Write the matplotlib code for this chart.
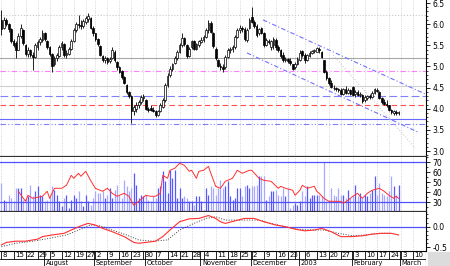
#Grafico de candles com volume, RSI e MACD
import matplotlib.pyplot as plt
from matplotlib.ticker import MultipleLocator, FormatStrFormatter
from matplotlib.patches import Rectangle
import pandas as pd

plt.rcParams['font.family'] = 'DejaVu Sans'
plt.rcParams['axes.unicode_minus'] = False

#Dias de pregao de 8/jul/2002 ate 14/mar/2003, sem os feriados
feriados = pd.to_datetime(['2002-08-26', '2002-12-25', '2002-12-26', '2003-01-01'])
datas = pd.bdate_range('2002-07-08', '2003-03-14')
datas = datas[~datas.isin(feriados)]
nomes_meses = {1: '2003', 2: 'February', 3: 'March', 8: 'August', 9: 'September',
               10: 'October', 11: 'November', 12: 'December'}
semanas_sem_rotulo = ['2002-12-30']

#Precos diarios (abertura, maxima, minima, fechamento)
abertura = [6.10, 5.90, 6.10, 6.00, 5.88, 5.60, 5.55, 5.40, 5.72, 5.85,
            5.50, 5.30, 5.38, 5.28, 5.22, 5.45, 5.58, 5.62, 5.78, 5.60,
            5.45, 5.30, 5.05, 5.20, 5.25, 5.45, 5.52, 5.28, 5.30, 5.42,
            5.60, 5.85, 6.00, 5.98, 5.95, 6.05, 6.12, 6.15, 5.92, 5.78,
            5.65, 5.48, 5.25, 5.15, 5.20, 5.12, 5.20, 5.35, 5.10, 4.98,
            4.90, 4.75, 4.55, 4.40, 4.30, 3.95, 4.00, 4.10, 4.15, 4.25,
            4.20, 4.00, 4.02, 3.98, 3.95, 3.85, 3.95, 4.05, 4.20, 4.55,
            4.80, 4.95, 5.08, 5.20, 5.35, 5.50, 5.68, 5.50, 5.25, 5.45,
            5.60, 5.42, 5.50, 5.58, 5.62, 5.70, 5.85, 6.02, 5.80, 5.42,
            5.15, 5.02, 4.98, 4.98, 5.22, 5.38, 5.42, 5.45, 5.70, 5.85,
            5.90, 5.88, 5.62, 5.90, 6.17, 6.05, 5.95, 5.78, 5.92, 5.80,
            5.50, 5.60, 5.45, 5.50, 5.62, 5.45, 5.40, 5.28, 5.15, 5.18,
            5.12, 5.05, 4.98, 5.05, 5.15, 5.36, 5.26, 5.15, 5.25, 5.32,
            5.36, 5.35, 5.42, 5.34, 5.15, 4.88, 4.72, 4.62, 4.50, 4.48,
            4.46, 4.45, 4.36, 4.46, 4.38, 4.44, 4.52, 4.35, 4.40, 4.32,
            4.32, 4.20, 4.26, 4.30, 4.28, 4.38, 4.45, 4.40, 4.26, 4.16,
            4.12, 4.08, 3.98, 3.90, 3.92, 3.90]
maxima = [6.34, 6.18, 6.15, 6.02, 5.90, 5.65, 5.60, 5.80, 6.00, 5.88,
          5.52, 5.45, 5.42, 5.35, 5.55, 5.62, 5.70, 5.86, 5.82, 5.62,
          5.48, 5.32, 5.25, 5.32, 5.50, 5.60, 5.55, 5.38, 5.45, 5.65,
          5.90, 6.05, 6.22, 6.10, 6.12, 6.20, 6.27, 6.18, 5.95, 5.80,
          5.68, 5.50, 5.28, 5.25, 5.22, 5.22, 5.45, 5.38, 5.12, 5.00,
          4.92, 4.78, 4.58, 4.42, 4.32, 4.10, 4.15, 4.20, 4.32, 4.35,
          4.22, 4.05, 4.09, 4.04, 3.98, 3.98, 4.14, 4.25, 4.60, 4.84,
          5.00, 5.08, 5.25, 5.39, 5.55, 5.79, 5.70, 5.52, 5.46, 5.62,
          5.62, 5.55, 5.62, 5.70, 5.75, 5.90, 6.10, 6.08, 5.82, 5.45,
          5.18, 5.08, 5.06, 5.27, 5.44, 5.46, 5.50, 5.75, 5.90, 5.98,
          5.95, 5.93, 5.90, 6.15, 6.40, 6.10, 6.00, 5.90, 5.93, 5.82,
          5.67, 5.65, 5.62, 5.70, 5.68, 5.50, 5.42, 5.34, 5.22, 5.20,
          5.20, 5.06, 5.10, 5.22, 5.39, 5.39, 5.32, 5.30, 5.36, 5.39,
          5.42, 5.46, 5.46, 5.36, 5.16, 4.92, 4.75, 4.68, 4.56, 4.52,
          4.50, 4.49, 4.50, 4.54, 4.50, 4.47, 4.54, 4.45, 4.44, 4.40,
          4.34, 4.32, 4.33, 4.36, 4.42, 4.49, 4.49, 4.42, 4.28, 4.22,
          4.20, 4.10, 4.00, 3.97, 3.96, 3.95]
minima = [5.75, 5.88, 5.95, 5.82, 5.55, 5.46, 5.20, 5.38, 5.68, 5.50,
          5.25, 5.22, 5.22, 4.92, 5.20, 5.40, 5.50, 5.58, 5.60, 5.42,
          5.25, 4.87, 5.00, 5.12, 5.22, 5.40, 5.22, 5.20, 5.28, 5.40,
          5.58, 5.82, 5.90, 5.88, 5.90, 6.00, 6.05, 5.88, 5.72, 5.60,
          5.48, 5.25, 5.10, 5.08, 5.05, 5.08, 5.18, 5.10, 4.92, 4.85,
          4.70, 4.58, 4.35, 4.25, 3.66, 3.85, 3.92, 4.02, 4.12, 4.18,
          3.98, 3.92, 3.95, 3.92, 3.80, 3.82, 3.92, 4.02, 4.15, 4.52,
          4.75, 4.90, 5.05, 5.15, 5.32, 5.46, 5.48, 5.20, 5.22, 5.42,
          5.38, 5.40, 5.45, 5.55, 5.58, 5.68, 5.80, 5.78, 5.44, 5.15,
          4.99, 4.92, 4.87, 4.95, 5.20, 5.32, 5.34, 5.42, 5.67, 5.80,
          5.82, 5.60, 5.58, 5.88, 6.02, 5.90, 5.70, 5.75, 5.77, 5.46,
          5.48, 5.52, 5.39, 5.42, 5.40, 5.35, 5.20, 5.10, 5.10, 5.08,
          5.03, 4.92, 4.95, 5.03, 5.12, 5.22, 5.08, 5.12, 5.22, 5.30,
          5.32, 5.33, 5.32, 5.20, 4.84, 4.68, 4.55, 4.48, 4.44, 4.43,
          4.40, 4.32, 4.32, 4.34, 4.34, 4.32, 4.30, 4.28, 4.30, 4.28,
          4.14, 4.16, 4.20, 4.24, 4.26, 4.36, 4.40, 4.22, 4.12, 4.09,
          4.04, 3.95, 3.88, 3.85, 3.85, 3.85]
fechamento = [5.88, 6.10, 6.00, 5.88, 5.60, 5.50, 5.38, 5.72, 5.90, 5.55,
              5.30, 5.38, 5.28, 5.22, 5.50, 5.58, 5.65, 5.78, 5.65, 5.45,
              5.30, 5.02, 5.20, 5.28, 5.45, 5.55, 5.28, 5.32, 5.42, 5.60,
              5.85, 6.00, 5.98, 5.95, 6.08, 6.15, 6.20, 5.92, 5.78, 5.65,
              5.52, 5.28, 5.15, 5.20, 5.10, 5.18, 5.40, 5.15, 4.98, 4.88,
              4.75, 4.62, 4.40, 4.30, 3.95, 4.05, 4.10, 4.15, 4.28, 4.30,
              4.00, 3.98, 3.98, 3.95, 3.85, 3.95, 4.08, 4.20, 4.55, 4.78,
              4.95, 5.05, 5.20, 5.35, 5.50, 5.68, 5.52, 5.25, 5.42, 5.60,
              5.42, 5.52, 5.60, 5.62, 5.70, 5.85, 6.02, 5.82, 5.48, 5.20,
              5.02, 4.98, 4.95, 5.22, 5.40, 5.42, 5.45, 5.70, 5.85, 5.90,
              5.88, 5.65, 5.85, 6.10, 6.05, 5.95, 5.75, 5.88, 5.80, 5.50,
              5.62, 5.58, 5.60, 5.65, 5.45, 5.40, 5.25, 5.15, 5.18, 5.12,
              5.08, 4.95, 5.05, 5.18, 5.32, 5.26, 5.15, 5.27, 5.32, 5.36,
              5.38, 5.44, 5.38, 5.22, 4.88, 4.72, 4.60, 4.52, 4.48, 4.46,
              4.44, 4.36, 4.46, 4.38, 4.45, 4.36, 4.33, 4.40, 4.32, 4.36,
              4.18, 4.28, 4.30, 4.28, 4.38, 4.46, 4.42, 4.26, 4.15, 4.12,
              4.10, 3.98, 3.92, 3.95, 3.90, 3.92]

#Volume (ja na escala do painel do meio)
volume = [49, 32, 31, 37, 34, 31, 44, 44, 44, 32, 34, 36, 47, 36, 41, 46, 37, 36, 31, 32,
          36, 46, 42, 37, 31, 26, 34, 37, 24, 32, 37, 34, 41, 31, 26, 37, 31, 27, 34, 41,
          39, 39, 41, 34, 37, 44, 34, 42, 47, 37, 34, 52, 46, 41, 44, 59, 47, 34, 37, 36,
          37, 32, 31, 36, 34, 44, 46, 61, 51, 39, 62, 54, 62, 34, 44, 34, 36, 34, 31, 31,
          27, 36, 36, 31, 22, 44, 37, 46, 44, 37, 44, 52, 44, 46, 51, 36, 32, 34, 44, 44,
          36, 46, 47, 44, 46, 46, 47, 56, 56, 56, 32, 36, 41, 41, 42, 37, 36, 44, 36, 44,
          24, 27, 29, 27, 31, 41, 36, 46, 34, 37, 37, 37, 37, 36, 70, 31, 32, 44, 37, 36,
          44, 37, 37, 34, 42, 34, 36, 47, 36, 39, 34, 37, 36, 39, 42, 56, 37, 49, 39, 37,
          36, 41, 56, 46, 37, 47]

#Linha vermelha do painel do meio (RSI)
rsi_dia = [7, 10, 11, 13, 17, 19, 20, 22, 25, 27, 29, 30, 32, 33, 35, 37, 39, 42, 44, 46,
           48, 51, 53, 54, 55, 57, 60, 62, 64, 66, 67, 69, 70, 72, 74, 76, 78, 79, 81, 82,
           84, 86, 87, 89, 91, 93, 96, 98, 100, 103, 104, 107, 109, 112, 115, 116, 118, 121, 122, 124,
           125, 127, 130, 131, 132, 134, 136, 139, 141, 142, 144, 146, 148, 149, 150, 152, 154, 157, 159, 161,
           163, 164, 165]
rsi_valor = [41, 31, 37, 34, 36, 41, 34, 44, 44, 47, 57, 54, 59, 56, 61, 52, 44, 41, 44, 39,
             36, 39, 36, 31, 27, 31, 37, 36, 36, 39, 57, 54, 62, 64, 69, 67, 61, 62, 54, 61,
             62, 66, 59, 46, 44, 51, 54, 62, 59, 62, 62, 54, 52, 51, 44, 46, 44, 42, 37, 42,
             47, 44, 46, 41, 39, 34, 31, 31, 31, 29, 32, 36, 39, 36, 34, 39, 42, 44, 41, 37,
             34, 36, 34]

#MACD e linha de sinal
macd_dia = [0, 2, 6, 10, 15, 17, 21, 26, 29, 33, 36, 39, 42, 46, 51, 55, 57, 60, 64, 67,
            70, 74, 78, 82, 86, 89, 91, 93, 97, 101, 105, 109, 114, 118, 122, 126, 130, 133, 137, 141,
            145, 150, 154, 158, 162, 165]
macd_valor = [-0.44, -0.38, -0.35, -0.35, -0.30, -0.24, -0.20, -0.16, -0.08, 0.02,
              0.08, 0.04, -0.04, -0.12, -0.24, -0.38, -0.40, -0.38, -0.35, -0.24,
              -0.08, 0.12, 0.19, 0.20, 0.27, 0.20, 0.12, 0.08, 0.14, 0.20,
              0.20, 0.12, 0.04, 0.00, -0.06, -0.10, -0.08, -0.04, -0.12, -0.24,
              -0.24, -0.22, -0.18, -0.16, -0.16, -0.20]
sinal_dia = [0, 6, 13, 20, 27, 33, 37, 41, 46, 52, 57, 63, 69, 74, 80, 85, 89, 93, 101, 107,
             112, 118, 123, 129, 134, 140, 146, 151, 157, 162]
sinal_valor = [-0.48, -0.40, -0.35, -0.28, -0.20, -0.06, 0.04, 0.02, -0.08, -0.20,
               -0.32, -0.35, -0.32, -0.08, 0.08, 0.20, 0.24, 0.16, 0.16, 0.16,
               0.08, 0.00, -0.06, -0.08, -0.08, -0.16, -0.22, -0.20, -0.16, -0.16]

#Linhas horizontais de suporte/resistencia e canal de baixa
niveis = [6.22, 5.20, 4.89, 4.54, 4.30, 4.09, 3.76, 3.64]
canal_sup = [(108.7, 6.10), (176.8, 4.33)]
canal_inf = [(102.0, 5.32), (173.0, 3.45)]
canal_meio = [(137.8, 5.27), (171.9, 3.07)]

W, H = 450, 266
fig = plt.figure(figsize=(W / 100, H / 100), dpi=100)
larg = 426 / W
ax1 = fig.add_axes([0, (H - 157) / H, larg, 157 / H])
ax2 = fig.add_axes([0, (H - 212) / H, larg, 55 / H])
ax3 = fig.add_axes([0, (H - 251) / H, larg, 39 / H])
axd = fig.add_axes([0, 0, larg, 15 / H])

xlim = (-0.62, 176.4)
n = len(fechamento)
dias = list(range(n))

#inicio de cada semana e de cada mes
semanas = [i for i in range(len(datas)) if i == 0 or datas[i].weekday() < datas[i - 1].weekday()]
meses = [i for i in range(1, len(datas)) if datas[i].month != datas[i - 1].month]

for ax in (ax1, ax2, ax3):
    ax.set_xlim(*xlim)
    ax.set_xticks([])
    ax.vlines(semanas, -100, 100, colors='#c8c8c8', linestyles=':', linewidth=0.6, zorder=0)
    ax.yaxis.tick_right()
    ax.tick_params(axis='y', which='major', length=3, width=0.6, labelsize=5.5, pad=1.5)
    ax.tick_params(axis='y', which='minor', length=1.5, width=0.5)
    ax.spines['left'].set_visible(False)
    ax.spines['top'].set_visible(False)
    ax.spines['right'].set_linewidth(0.8)

#Painel principal: candles
ax1.set_ylim(2.859, 6.571)
estilos = [(':', '#c8c8c8'), ('-', '#a8a8a8'), ((0, (5, 2, 1, 2)), '#ff80ff'), ('-', '#d0d0d0'),
           ((0, (7, 3)), '#8080ff'), ((0, (5, 3)), '#ff5050'), ('-', '#6868ff'),
           ((0, (5, 2, 1, 2, 1, 2)), '#8080ff')]
for nivel, (ls, cor) in zip(niveis, estilos):
    ax1.axhline(nivel, color=cor, linestyle=ls, linewidth=0.8, zorder=1)
for linha in (canal_sup, canal_inf):
    ax1.plot([p[0] for p in linha], [p[1] for p in linha], color='#7070ff',
             linestyle=(0, (4, 2, 1, 2)), linewidth=0.8, zorder=1)
ax1.plot([p[0] for p in canal_meio], [p[1] for p in canal_meio], color='#d0d0d0',
         linestyle=':', linewidth=0.8, zorder=1)

ax1.vlines(dias, minima, maxima, colors='black', linewidth=0.6, zorder=2)
corpo_base = [min(o, c) for o, c in zip(abertura, fechamento)]
corpo_alt = [max(abs(c - o), 0.01) for o, c in zip(abertura, fechamento)]
cores = ['white' if c >= o else 'black' for o, c in zip(abertura, fechamento)]
ax1.bar(dias, corpo_alt, bottom=corpo_base, width=0.7, color=cores,
        edgecolor='black', linewidth=0.5, zorder=3)
ax1.yaxis.set_major_locator(MultipleLocator(0.5))
ax1.yaxis.set_minor_locator(MultipleLocator(0.1))
ax1.yaxis.set_major_formatter(FormatStrFormatter('%.1f'))
ax1.spines['bottom'].set_linewidth(1.6)
ax1.spines['bottom'].set_color('#303030')

#Painel do meio: volume e RSI
ax2.set_ylim(20.3, 75.3)
cores_vol = ['#5858ff' if c >= o else '#a8a8ff' for o, c in zip(abertura, fechamento)]
ax2.vlines(dias, 20.3, volume, colors=cores_vol, linewidth=0.9, zorder=2)
ax2.axhline(70, color='#5050ff', linewidth=0.9, zorder=3)
ax2.axhline(30, color='#5050ff', linewidth=0.9, zorder=3)
ax2.plot(rsi_dia, rsi_valor, color='#ff3030', linewidth=0.7, zorder=4)
ax2.yaxis.set_major_locator(MultipleLocator(10))
ax2.yaxis.set_minor_locator(MultipleLocator(5))
ax2.set_yticks([30, 40, 50, 60, 70])
ax2.spines['bottom'].set_linewidth(1.6)
ax2.spines['bottom'].set_color('#303030')

#Painel de baixo: MACD
ax3.set_ylim(-0.587, 0.355)
ax3.axhline(0, color='#5050ff', linewidth=0.9, zorder=1)
ax3.plot(sinal_dia, sinal_valor, color='#404040', linestyle=':', linewidth=0.7, zorder=2)
ax3.plot(macd_dia, macd_valor, color='#ff3030', linewidth=0.8, zorder=3)
ax3.yaxis.set_major_locator(MultipleLocator(0.5))
ax3.yaxis.set_minor_locator(MultipleLocator(0.1))
ax3.yaxis.set_major_formatter(FormatStrFormatter('%.1f'))
ax3.spines['bottom'].set_linewidth(0.8)

#Eixo de datas: linha de cima com os dias, linha de baixo com os meses
axd.set_xlim(*xlim)
axd.set_ylim(0, 1)
axd.axis('off')
corte = 0.45
axd.axhline(corte, color='black', linewidth=0.6)
axd.axvline(xlim[1], color='black', linewidth=0.8)
for i in semanas:
    axd.vlines(i, corte, 1, colors='black', linewidth=0.6)
    if str(datas[i].date()) not in semanas_sem_rotulo:
        axd.text(i + 0.5, 0.73, str(datas[i].day), fontsize=5, va='center', ha='left')
for i in meses:
    axd.vlines(i - 0.5, 0, 1, colors='black', linewidth=0.6)
    axd.text(i + 0.3, 0.03, nomes_meses[datas[i].month], fontsize=4.8, va='bottom', ha='left')

fig.patches.append(Rectangle((428 / W, 0), 22 / W, 14 / H, transform=fig.transFigure,
                             color='#dcdcdc', zorder=0))

fig.savefig('out.png', dpi=100)
